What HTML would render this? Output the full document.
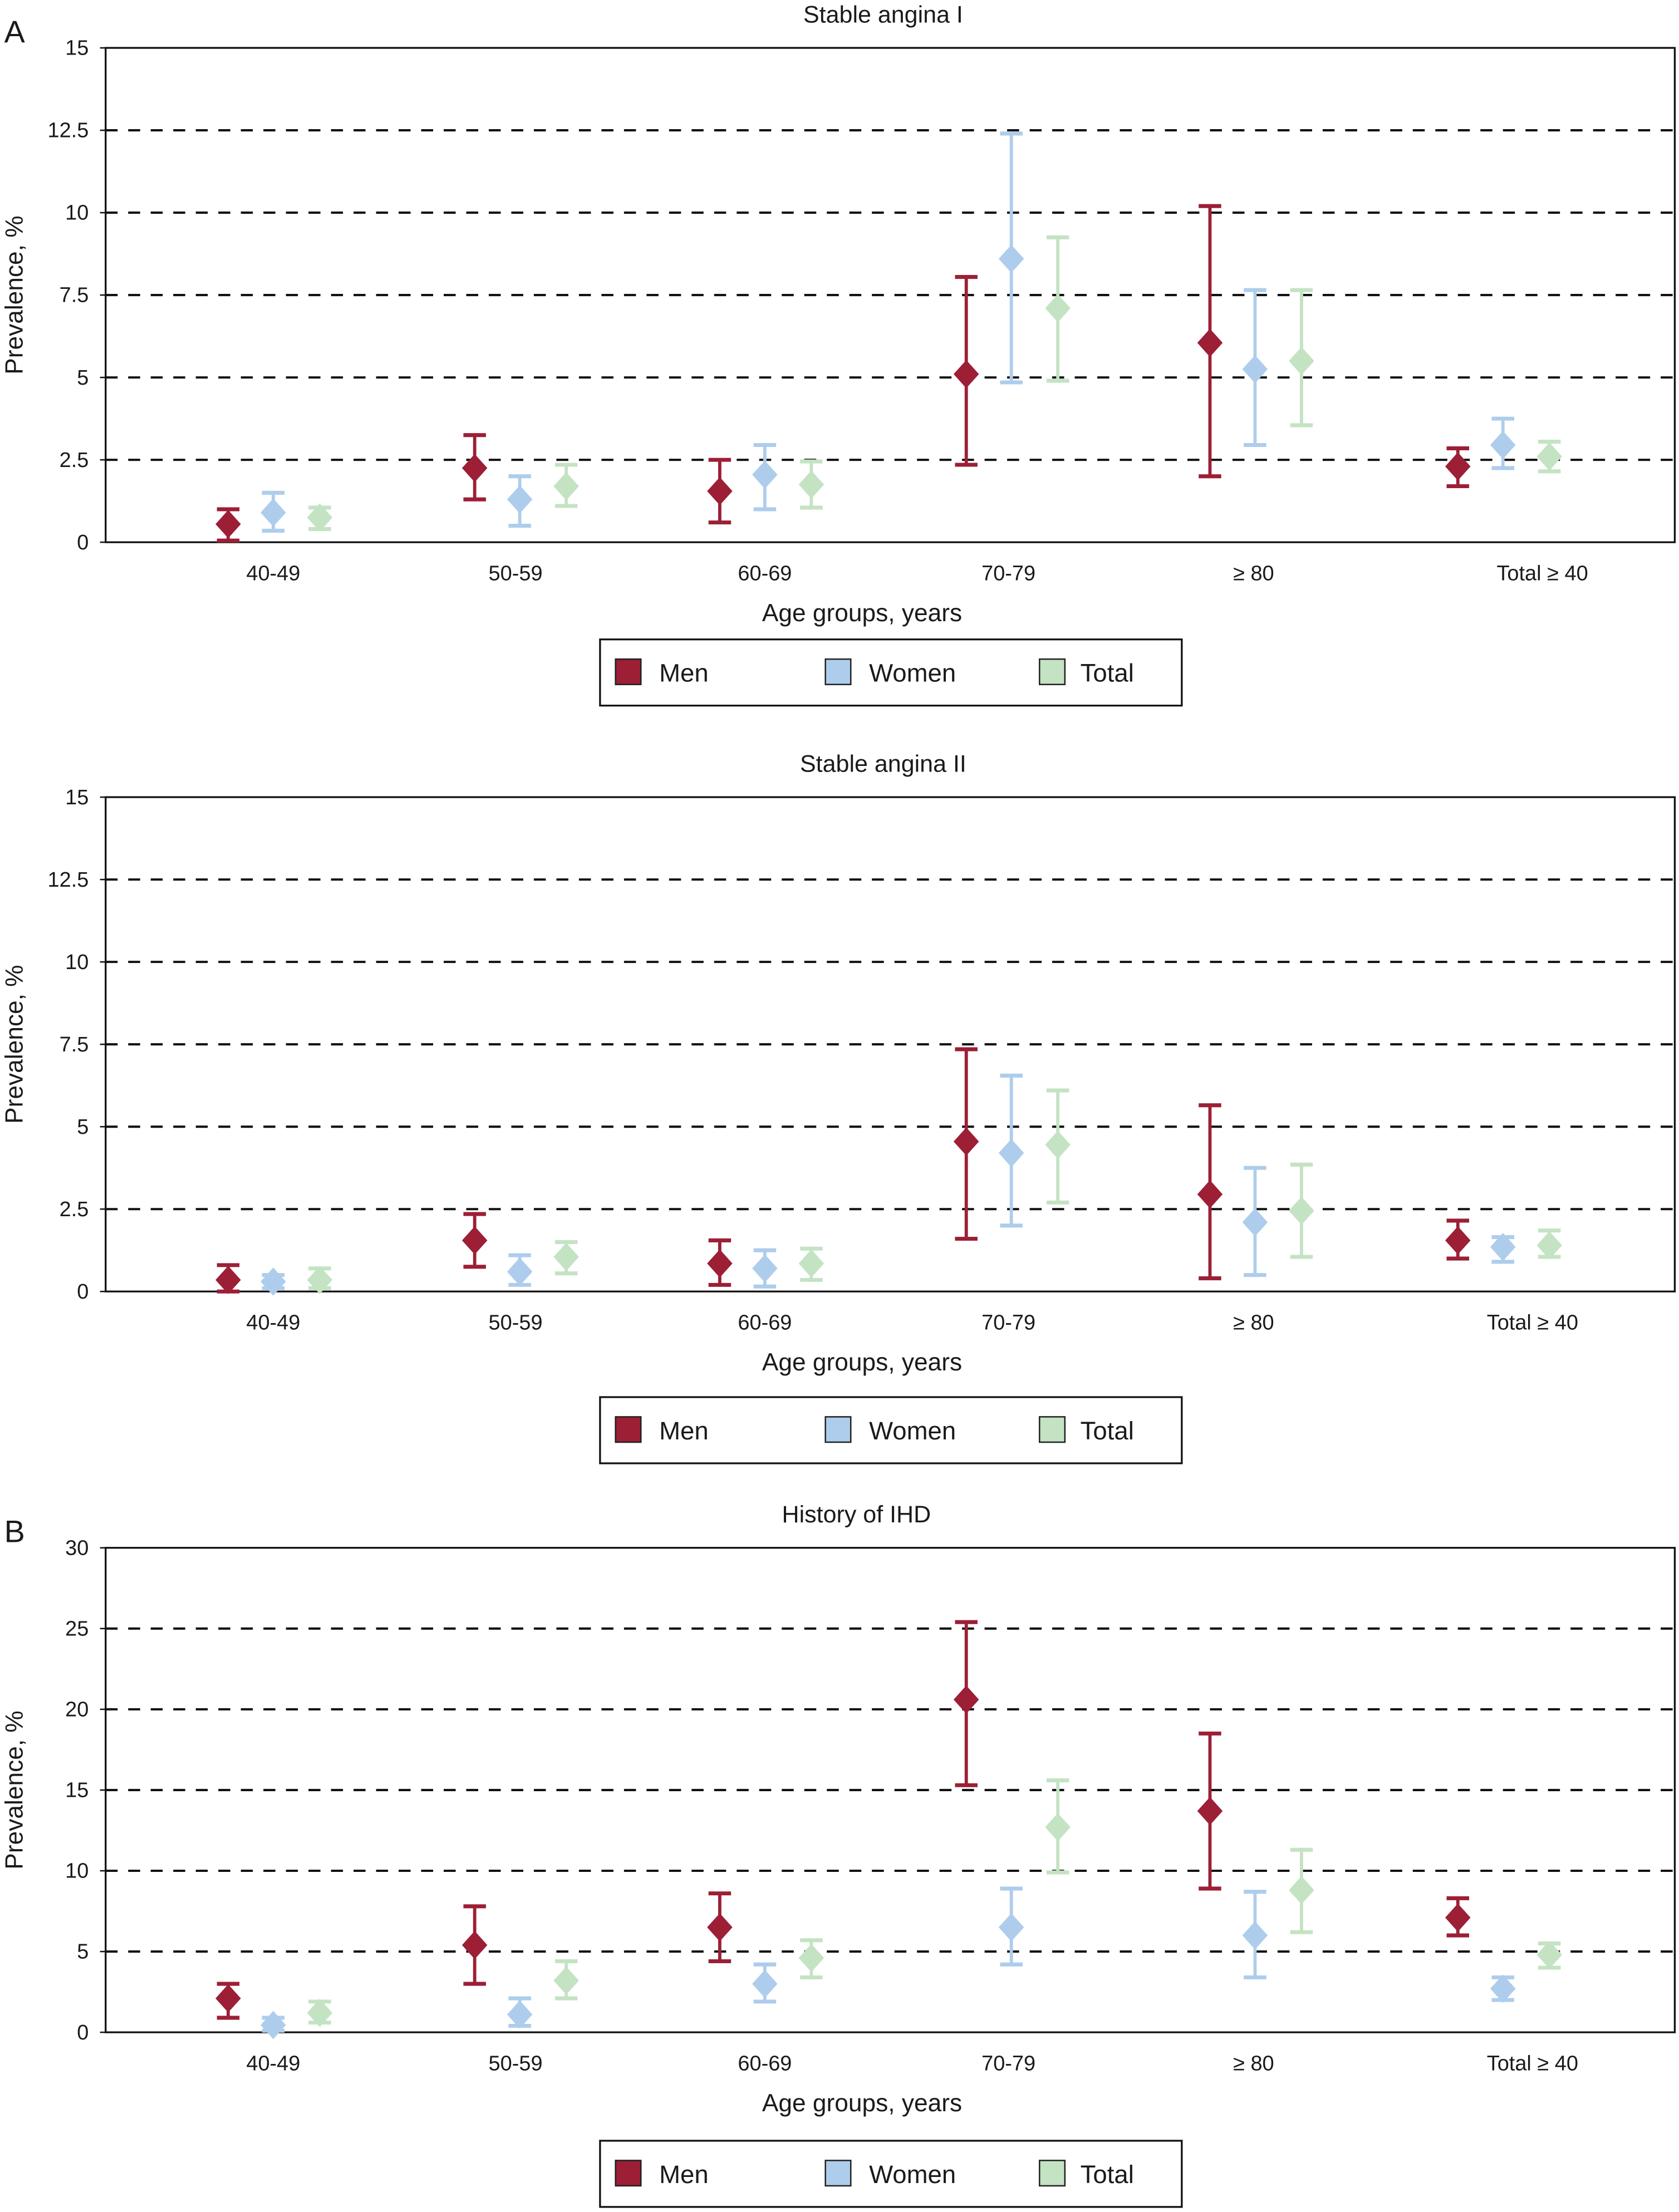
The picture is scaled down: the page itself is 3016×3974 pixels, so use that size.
<!DOCTYPE html>
<html><head><meta charset="utf-8"><style>
html,body{margin:0;padding:0;background:#fff;}
svg{display:block;}
text{font-family:"Liberation Sans",Arial,sans-serif;fill:#1a1a1a;}
</style></head>
<body>
<svg id="chart" width="3016" height="3974" viewBox="0 0 1192 1570.6" preserveAspectRatio="none" xmlns="http://www.w3.org/2000/svg"></svg>
<script>
const categories = ["40-49","50-59","60-69","70-79","\u2265 80","Total \u2265 40"];
const seriesNames = ["Men","Women","Total"];
const seriesColors = ["#9c1f36","#aecdec","#c4e3c3"];

// Panel A1: Stable angina I
const p1Men   = [0.55,2.25,1.55,5.1,6.05,2.3];
const p1MenLo = [0.05,1.3,0.6,2.35,2.0,1.7];
const p1MenHi = [1.0,3.25,2.5,8.05,10.2,2.85];
const p1Women   = [0.9,1.3,2.05,8.6,5.25,2.95];
const p1WomenLo = [0.35,0.5,1.0,4.85,2.95,2.25];
const p1WomenHi = [1.5,2.0,2.95,12.4,7.65,3.75];
const p1Total   = [0.75,1.7,1.75,7.1,5.5,2.6];
const p1TotalLo = [0.4,1.1,1.05,4.9,3.55,2.15];
const p1TotalHi = [1.05,2.35,2.45,9.25,7.65,3.05];
const p1Ticks = ["0","2.5","5","7.5","10","12.5","15"];

// Panel A2: Stable angina II
const p2Men   = [0.35,1.55,0.85,4.55,2.95,1.55];
const p2MenLo = [0.0,0.75,0.2,1.6,0.4,1.0];
const p2MenHi = [0.8,2.35,1.55,7.35,5.65,2.15];
const p2Women   = [0.3,0.6,0.7,4.2,2.1,1.35];
const p2WomenLo = [0.1,0.2,0.15,2.0,0.5,0.9];
const p2WomenHi = [0.5,1.1,1.25,6.55,3.75,1.65];
const p2Total   = [0.35,1.05,0.85,4.45,2.45,1.4];
const p2TotalLo = [0.1,0.55,0.35,2.7,1.05,1.05];
const p2TotalHi = [0.7,1.5,1.3,6.1,3.85,1.85];
const p2Ticks = ["0","2.5","5","7.5","10","12.5","15"];

// Panel B: History of IHD
const p3Men   = [2.1,5.4,6.5,20.6,13.7,7.1];
const p3MenLo = [0.9,3.0,4.4,15.3,8.9,6.0];
const p3MenHi = [3.0,7.8,8.6,25.4,18.5,8.3];
const p3Women   = [0.45,1.1,3.0,6.5,6.0,2.7];
const p3WomenLo = [0.1,0.4,1.9,4.2,3.4,2.0];
const p3WomenHi = [0.9,2.1,4.2,8.9,8.7,3.4];
const p3Total   = [1.2,3.2,4.6,12.7,8.8,4.8];
const p3TotalLo = [0.6,2.1,3.4,9.9,6.2,4.0];
const p3TotalHi = [1.9,4.4,5.7,15.6,11.3,5.5];
const p3Ticks = ["0","5","10","15","20","25","30"];

const NS="http://www.w3.org/2000/svg";
const svg=document.getElementById('chart');
function mk(tag,attrs,parent){const e=document.createElementNS(NS,tag);for(const k in attrs)e.setAttribute(k,attrs[k]);(parent||svg).appendChild(e);return e;}

function panel(cfg){
  const g=mk('g',{});
  
  
  const L=75,R=1189,T=cfg.top,B=cfg.bottom;
  const ymax=cfg.ymax;
  const y=v=>B-(v/ymax)*(B-T);
  const groupX=[194,369,543,718,891,1067];
  const offs=[-32,0,33];
  const xs=(i,s)=>groupX[i]+offs[s];
  const t=mk('text',{x:cfg.titleX,y:T-18,'font-size':17,'text-anchor':'middle'},g);t.textContent=cfg.title;
  
  if(cfg.letter){const lt=mk('text',{x:3,y:T-4,'font-size':22},g);lt.textContent=cfg.letter;
    }
  cfg.ticks.forEach((lab,k)=>{
    const v=parseFloat(lab);const yy=y(v);
    if(v>0&&v<ymax){const gl=mk('line',{x1:L,x2:R,y1:yy,y2:yy,stroke:'#111','stroke-width':1.6,'stroke-dasharray':'8.5,7.5'},g);
      }
    const tl=mk('text',{x:63,y:yy+5,'font-size':15,'text-anchor':'end'},g);tl.textContent=lab;
    
    mk('line',{x1:L-4,x2:L,y1:yy,y2:yy,stroke:'#111','stroke-width':1},g);
  });
  const box=mk('rect',{x:L,y:T,width:R-L,height:B-T,fill:'none',stroke:'#111','stroke-width':1.3},g);
  
  const yt=mk('text',{x:0,y:0,'font-size':17.5,'text-anchor':'middle',transform:`translate(16,${(T+B)/2}) rotate(-90)`},g);
  yt.textContent='Prevalence, %';
  const lx=[194,366,543,716,890,cfg.lastX];
  categories.forEach((c,i)=>{const xl=mk('text',{x:lx[i],y:B+27,'font-size':15,'text-anchor':'middle'},g);xl.textContent=c;
    });
  const xt=mk('text',{x:612,y:B+56,'font-size':17.5,'text-anchor':'middle'},g);xt.textContent='Age groups, years';
  
  cfg.series.forEach((s,si)=>{
    const col=seriesColors[si];
    s.v.forEach((val,i)=>{
      const x=xs(i,si);
      const eg=mk('g',{},g);
      
      
      mk('line',{x1:x,x2:x,y1:y(s.lo[i]),y2:y(s.hi[i]),stroke:col,'stroke-width':2.3},eg);
      mk('line',{x1:x-8,x2:x+8,y1:y(s.lo[i]),y2:y(s.lo[i]),stroke:col,'stroke-width':2.8},eg);
      mk('line',{x1:x-8,x2:x+8,y1:y(s.hi[i]),y2:y(s.hi[i]),stroke:col,'stroke-width':2.8},eg);
      const yy=y(val);
      mk('polygon',{points:`${x},${yy-10} ${x+9},${yy} ${x},${yy+10} ${x-9},${yy}`,fill:col},eg);
    });
  });
  const lg=mk('g',{},g);
  const ly=cfg.legendY;
  mk('rect',{x:426,y:ly,width:413,height:47,fill:'#fff',stroke:'#111','stroke-width':1.3},lg);
  const sx=[437,586,738],tx=[468,617,767];
  seriesNames.forEach((n,si)=>{
    const e=mk('g',{},lg);
    mk('rect',{x:sx[si],y:ly+14,width:18,height:18,fill:seriesColors[si],stroke:'#222','stroke-width':1},e);
    const tt=mk('text',{x:tx[si],y:ly+30,'font-size':18},e);tt.textContent=n;
  });
}
panel({name:'panel-stable-angina-i',title:'Stable angina I',titleX:627,letter:'A',top:34,bottom:385,ymax:15,ticks:p1Ticks,lastX:1095,legendY:454,
  series:[{v:p1Men,lo:p1MenLo,hi:p1MenHi},{v:p1Women,lo:p1WomenLo,hi:p1WomenHi},{v:p1Total,lo:p1TotalLo,hi:p1TotalHi}]});
panel({name:'panel-stable-angina-ii',title:'Stable angina II',titleX:627,letter:'',top:566,bottom:917,ymax:15,ticks:p2Ticks,lastX:1088,legendY:992,
  series:[{v:p2Men,lo:p2MenLo,hi:p2MenHi},{v:p2Women,lo:p2WomenLo,hi:p2WomenHi},{v:p2Total,lo:p2TotalLo,hi:p2TotalHi}]});
panel({name:'panel-history-ihd',title:'History of IHD',titleX:608,letter:'B',top:1099,bottom:1443,ymax:30,ticks:p3Ticks,lastX:1088,legendY:1520,
  series:[{v:p3Men,lo:p3MenLo,hi:p3MenHi},{v:p3Women,lo:p3WomenLo,hi:p3WomenHi},{v:p3Total,lo:p3TotalLo,hi:p3TotalHi}]});
</script>
</body></html>
